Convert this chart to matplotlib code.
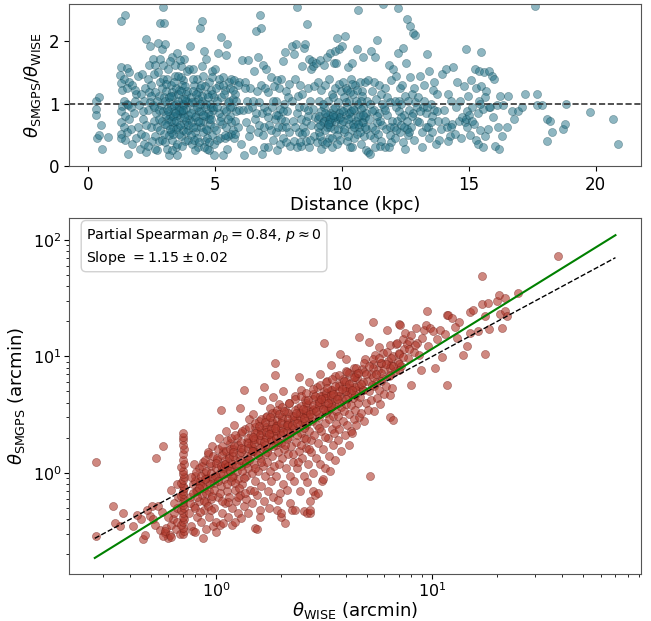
import matplotlib.pyplot as plt
import numpy as np

# top panel: (distance kpc, theta_SMGPS / theta_WISE)
ratio_points = [
    (0.30, 1.05), (0.30, 0.92), (0.30, 0.82), (0.45, 1.10), (0.50, 0.65), (0.35, 0.45), (0.45, 0.50), (0.55, 0.28), (0.80, 0.47),
    (1.30, 2.33), (1.45, 2.42), (1.28, 1.58), (1.52, 1.57), (1.62, 1.50), (1.25, 1.46), (1.42, 1.40), (1.30, 1.33), (1.60, 1.35),
    (1.35, 1.22), (1.55, 1.25), (1.75, 1.30), (1.42, 1.05), (1.52, 1.00), (1.35, 0.96), (1.58, 0.98), (1.70, 0.95), (1.28, 0.88),
    (1.46, 0.80), (1.62, 0.76), (1.30, 0.70), (1.42, 0.62), (1.52, 0.55), (1.30, 0.52), (1.45, 0.42), (1.58, 0.20), (1.28, 0.45),
    (1.80, 0.85), (1.85, 1.05), (1.90, 1.15), (1.95, 0.62), (1.88, 0.45), (1.75, 0.36), (1.95, 1.45), (1.85, 1.22), (1.70, 0.60),
    (2.05, 0.28), (2.10, 0.52), (2.15, 0.75), (2.20, 1.05), (2.25, 1.25), (2.30, 2.04), (2.35, 1.40), (2.40, 1.62), (2.45, 1.92),
    (2.50, 1.30), (2.55, 0.98), (2.60, 0.72), (2.65, 0.48), (2.70, 0.25), (2.75, 1.98), (2.80, 1.12), (2.85, 2.30), (2.90, 1.88),
    (2.95, 2.55), (2.95, 1.62), (3.00, 2.29), (2.20, 0.35), (2.30, 0.22), (2.35, 0.90), (2.42, 1.18), (2.48, 0.63), (2.52, 0.40),
    (2.58, 1.48), (2.62, 1.18), (2.68, 0.85), (2.72, 0.62), (2.78, 0.40), (2.82, 1.35), (2.88, 0.98), (2.92, 0.72), (2.98, 0.52),
    (2.12, 1.48), (2.18, 0.88), (2.28, 0.65), (2.38, 0.32), (2.45, 1.02), (2.55, 1.72), (2.62, 0.28), (2.70, 1.05), (2.78, 0.90),
    (2.85, 0.58), (2.90, 1.25), (2.95, 0.88), (2.00, 0.98), (2.08, 1.15), (2.65, 1.62), (2.75, 1.50), (2.85, 1.72), (2.90, 0.42),
    (2.98, 1.10), (2.25, 0.48), (2.50, 1.12), (2.60, 0.95), (2.80, 0.75), (2.95, 1.40),
    (3.02, 1.95), (3.05, 0.38), (3.08, 1.20), (3.10, 0.92), (3.12, 0.65), (3.15, 1.55), (3.18, 0.18), (3.20, 1.02), (3.22, 0.80),
    (3.25, 1.30), (3.28, 0.55), (3.30, 1.75), (3.32, 0.42), (3.35, 1.12), (3.38, 0.88), (3.40, 0.70), (3.42, 1.45), (3.45, 0.30),
    (3.48, 1.00), (3.50, 0.18), (3.52, 1.82), (3.55, 0.62), (3.58, 1.22), (3.60, 0.95), (3.62, 0.78), (3.65, 1.60), (3.68, 0.48),
    (3.70, 1.08), (3.72, 0.85), (3.75, 1.38), (3.78, 0.68), (3.80, 1.72), (3.82, 0.40), (3.85, 1.15), (3.88, 0.92), (3.90, 1.52),
    (3.92, 0.58), (3.95, 1.02), (3.98, 0.75), (3.05, 1.05), (3.10, 1.40), (3.15, 0.75), (3.20, 0.50), (3.25, 0.95), (3.30, 1.18),
    (3.35, 0.62), (3.40, 0.98), (3.45, 1.25), (3.50, 0.82), (3.55, 1.05), (3.60, 0.52), (3.65, 0.88), (3.70, 1.30), (3.75, 0.58),
    (3.80, 0.98), (3.85, 0.72), (3.90, 1.20), (3.95, 0.82), (3.08, 0.82), (3.18, 1.10), (3.28, 0.72), (3.38, 1.35), (3.48, 0.60),
    (3.58, 0.90), (3.68, 1.42), (3.78, 0.78), (3.88, 1.05), (3.98, 1.55), (3.12, 0.28), (3.32, 0.25), (3.52, 0.35), (3.72, 0.32),
    (3.92, 0.42), (3.42, 1.62), (3.62, 1.70), (3.22, 1.68), (3.82, 1.28), (3.55, 1.45), (3.35, 0.80), (3.75, 1.00),
    (3.02, 0.68), (3.14, 0.88), (3.26, 1.12), (3.36, 0.52), (3.44, 0.85), (3.54, 1.15), (3.64, 0.65), (3.74, 0.90), (3.84, 1.08),
    (3.94, 0.66), (3.06, 1.32), (3.46, 0.72), (3.66, 1.20), (3.86, 0.55), (3.24, 0.60),
    (4.02, 1.92), (4.05, 1.10), (4.08, 0.70), (4.10, 0.35), (4.12, 1.55), (4.15, 0.92), (4.18, 1.30), (4.20, 0.55), (4.22, 1.02),
    (4.25, 0.80), (4.28, 1.40), (4.30, 0.45), (4.32, 1.18), (4.35, 0.30), (4.38, 0.88), (4.40, 2.22), (4.42, 1.25), (4.45, 0.62),
    (4.48, 1.05), (4.50, 2.32), (4.52, 0.72), (4.55, 1.45), (4.58, 1.85), (4.60, 0.95), (4.62, 0.40), (4.65, 1.72), (4.68, 1.15),
    (4.70, 0.58), (4.72, 0.85), (4.75, 1.35), (4.78, 0.25), (4.80, 1.00), (4.82, 0.68), (4.85, 1.22), (4.88, 0.50), (4.90, 1.52),
    (4.92, 0.90), (4.95, 0.35), (4.98, 1.10), (4.05, 0.50), (4.15, 1.20), (4.25, 0.62), (4.35, 1.08), (4.45, 0.88), (4.55, 0.55),
    (4.65, 1.00), (4.75, 0.75), (4.85, 0.95), (4.95, 0.62), (4.10, 1.02), (4.20, 0.78), (4.30, 0.95), (4.40, 0.70), (4.50, 1.12),
    (4.60, 1.28), (4.70, 0.45), (4.80, 0.82), (4.90, 1.15), (4.18, 0.42), (4.38, 0.38), (4.58, 0.30), (4.78, 0.38), (4.98, 0.18),
    (4.12, 1.40), (4.48, 1.60), (4.88, 1.42), (4.22, 0.25), (4.68, 0.28), (4.42, 1.00), (4.62, 0.80),
    (4.04, 0.85), (4.14, 0.62), (4.24, 1.15), (4.34, 0.72), (4.44, 1.30), (4.54, 0.82), (4.64, 0.60), (4.74, 1.10), (4.84, 0.75),
    (4.94, 0.95),
    (5.02, 1.55), (5.05, 0.58), (5.08, 1.05), (5.10, 0.42), (5.12, 1.82), (5.15, 0.85), (5.18, 1.30), (5.20, 0.45), (5.22, 2.07),
    (5.25, 1.10), (5.28, 0.68), (5.30, 0.18), (5.32, 1.42), (5.35, 0.92), (5.38, 0.45), (5.40, 1.22), (5.42, 1.78), (5.45, 0.62),
    (5.48, 1.95), (5.50, 1.02), (5.52, 0.48), (5.55, 1.35), (5.58, 0.80), (5.60, 1.25), (5.62, 0.52), (5.65, 1.40), (5.68, 0.95),
    (5.70, 0.58), (5.72, 1.08), (5.75, 1.38), (5.78, 0.72), (5.80, 1.15), (5.85, 0.88), (5.90, 0.62), (5.95, 1.35), (5.05, 1.25),
    (5.15, 1.40), (5.25, 0.78), (5.35, 1.15), (5.45, 0.88), (5.55, 1.05), (5.65, 0.70), (5.75, 0.45), (5.85, 1.05), (5.95, 0.90),
    (5.10, 0.95), (5.20, 0.72), (5.30, 1.30), (5.40, 0.50), (5.50, 0.75), (5.60, 0.95), (5.70, 1.22), (5.80, 0.52), (5.90, 1.30),
    (5.48, 0.28),
    (6.02, 0.35), (6.08, 1.70), (6.12, 0.90), (6.15, 0.18), (6.18, 1.35), (6.22, 0.70), (6.25, 1.05), (6.30, 1.70), (6.35, 0.48),
    (6.40, 1.25), (6.45, 0.95), (6.50, 0.25), (6.52, 1.05), (6.55, 1.52), (6.58, 0.75), (6.62, 2.17), (6.65, 1.20), (6.68, 0.55),
    (6.70, 1.75), (6.72, 1.02), (6.75, 0.65), (6.78, 2.43), (6.80, 2.22), (6.82, 1.30), (6.85, 0.85), (6.88, 0.50), (6.90, 1.62),
    (6.92, 0.95), (6.95, 0.30), (6.98, 1.25), (6.40, 0.60), (6.60, 0.85), (6.20, 1.25), (6.85, 0.20), (6.30, 0.92), (6.95, 0.62),
    (7.02, 1.55), (7.05, 0.88), (7.08, 0.30), (7.10, 1.18), (7.15, 0.65), (7.20, 1.42), (7.25, 0.95), (7.30, 0.42), (7.32, 1.28),
    (7.35, 0.75), (7.40, 1.05), (7.42, 0.55), (7.45, 0.25), (7.50, 0.82), (7.52, 1.25), (7.55, 0.35), (7.58, 0.92), (7.62, 1.40),
    (7.65, 0.62), (7.68, 1.68), (7.70, 0.45), (7.72, 1.00), (7.75, 1.83), (7.78, 0.72), (7.80, 1.20), (7.82, 0.38), (7.85, 0.88),
    (7.88, 1.10), (7.90, 0.55), (7.95, 0.32), (7.10, 0.78), (7.30, 1.05), (7.50, 0.62), (7.70, 0.88), (7.90, 1.32), (7.20, 0.58),
    (7.40, 0.82), (7.60, 0.75), (7.80, 0.62), (7.45, 1.38),
    (8.02, 1.05), (8.05, 1.92), (8.08, 0.72), (8.10, 1.80), (8.12, 0.40), (8.15, 1.40), (8.20, 1.95), (8.22, 0.85), (8.25, 2.55),
    (8.28, 1.12), (8.30, 0.55), (8.32, 0.95), (8.35, 1.30), (8.38, 0.32), (8.40, 0.75), (8.42, 1.60), (8.45, 0.52), (8.48, 0.62),
    (8.50, 1.90), (8.52, 0.95), (8.55, 1.95), (8.58, 0.40), (8.60, 0.72), (8.62, 2.28), (8.65, 1.25), (8.68, 0.80), (8.70, 1.72),
    (8.72, 0.30), (8.75, 1.05), (8.78, 1.55), (8.80, 0.65), (8.82, 1.68), (8.85, 0.92), (8.88, 1.60), (8.90, 0.48), (8.92, 1.28),
    (8.95, 0.78), (8.98, 1.65), (8.15, 0.62), (8.35, 0.38), (8.55, 0.55), (8.75, 0.42), (8.25, 0.30), (8.45, 1.15), (8.65, 0.90),
    (9.02, 0.38), (9.05, 1.35), (9.08, 0.75), (9.10, 1.05), (9.12, 0.55), (9.15, 1.70), (9.18, 0.88), (9.20, 1.22), (9.22, 0.40),
    (9.25, 0.70), (9.28, 1.62), (9.30, 0.95), (9.32, 0.35), (9.35, 1.30), (9.38, 0.78), (9.40, 1.75), (9.42, 0.62), (9.45, 1.05),
    (9.48, 0.45), (9.50, 1.40), (9.52, 0.85), (9.55, 1.82), (9.58, 0.70), (9.60, 1.15), (9.62, 0.30), (9.65, 0.92), (9.68, 1.65),
    (9.70, 0.60), (9.72, 1.85), (9.75, 1.25), (9.78, 0.80), (9.80, 2.05), (9.82, 0.50), (9.85, 1.02), (9.88, 0.75), (9.90, 1.32),
    (9.92, 0.42), (9.95, 0.90), (9.98, 1.20), (9.05, 0.62), (9.15, 0.48), (9.25, 1.00), (9.35, 0.58), (9.45, 0.82), (9.55, 0.62),
    (9.65, 1.10), (9.75, 0.72), (9.85, 0.60), (9.95, 0.68), (9.10, 0.80), (9.30, 0.72), (9.50, 0.70), (9.70, 0.78), (9.90, 0.85),
    (9.40, 0.38), (9.60, 0.45), (9.80, 0.35), (9.20, 0.28), (9.88, 1.88), (9.78, 1.65),
    (9.14, 0.66), (9.34, 0.85), (9.54, 0.76), (9.74, 0.95), (9.94, 0.78), (9.44, 0.68), (9.64, 0.82),
    (10.02, 1.92), (10.05, 1.35), (10.08, 0.55), (10.10, 1.10), (10.12, 2.08), (10.15, 0.82), (10.18, 1.25), (10.20, 0.40),
    (10.22, 0.95), (10.25, 1.58), (10.28, 0.68), (10.30, 1.05), (10.32, 0.30), (10.35, 1.40), (10.38, 0.78), (10.40, 1.65),
    (10.42, 0.58), (10.45, 1.15), (10.48, 0.45), (10.50, 0.90), (10.52, 1.30), (10.55, 0.72), (10.58, 1.88), (10.60, 0.52),
    (10.62, 2.50), (10.65, 1.00), (10.68, 0.62), (10.70, 1.35), (10.72, 0.82), (10.75, 0.35), (10.78, 1.20), (10.80, 0.70),
    (10.82, 1.75), (10.85, 0.95), (10.88, 0.48), (10.90, 1.35), (10.92, 0.78), (10.95, 0.60), (10.98, 1.05), (10.05, 0.72),
    (10.15, 1.02), (10.25, 0.48), (10.35, 0.88), (10.45, 0.68), (10.55, 1.05), (10.65, 0.78), (10.75, 0.92), (10.85, 0.70),
    (10.95, 0.85), (10.10, 0.60), (10.30, 0.85), (10.50, 0.62), (10.70, 0.55), (10.90, 0.62), (10.20, 1.22), (10.40, 1.32),
    (10.60, 1.22), (10.80, 1.12), (10.40, 0.30), (10.95, 0.25),
    (10.04, 0.88), (10.24, 0.75), (10.44, 0.92), (10.64, 0.68), (10.84, 0.82), (10.34, 1.18), (10.74, 1.05),
    (11.02, 0.22), (11.05, 1.38), (11.08, 0.75), (11.10, 1.00), (11.12, 0.20), (11.15, 1.85), (11.18, 0.62), (11.20, 1.20),
    (11.25, 0.45), (11.28, 0.90), (11.30, 1.75), (11.32, 0.30), (11.35, 1.08), (11.38, 0.70), (11.40, 2.02), (11.42, 0.52),
    (11.45, 1.30), (11.48, 0.85), (11.50, 0.32), (11.55, 1.15), (11.60, 0.65), (11.62, 2.60), (11.65, 0.95), (11.70, 0.30),
    (11.72, 1.25), (11.75, 0.60), (11.80, 0.82), (11.85, 1.62), (11.88, 0.50), (11.90, 1.02), (11.92, 0.38), (11.95, 1.38),
    (11.98, 0.72), (11.10, 0.50), (11.30, 0.58), (11.50, 0.72), (11.70, 0.90), (11.90, 0.62), (11.20, 0.88), (11.40, 0.80),
    (11.60, 1.00), (11.80, 1.10), (11.25, 1.35), (11.55, 0.40), (11.85, 0.30),
    (12.02, 1.55), (12.05, 0.62), (12.08, 1.05), (12.10, 0.45), (12.12, 0.95), (12.15, 1.45), (12.18, 0.72), (12.20, 2.53),
    (12.22, 1.82), (12.25, 0.88), (12.28, 1.25), (12.30, 0.55), (12.32, 1.00), (12.35, 0.65), (12.38, 1.30), (12.40, 0.38),
    (12.42, 1.90), (12.45, 0.82), (12.48, 1.12), (12.50, 0.28), (12.52, 1.65), (12.55, 2.35), (12.58, 0.72), (12.60, 1.05),
    (12.62, 0.50), (12.65, 0.90), (12.68, 1.42), (12.70, 2.25), (12.72, 0.62), (12.75, 1.15), (12.80, 2.14), (12.82, 0.85),
    (12.85, 0.42), (12.88, 2.10), (12.90, 1.02), (12.95, 0.72), (12.15, 0.58), (12.35, 0.78), (12.55, 0.60), (12.75, 0.80),
    (12.95, 0.95), (12.25, 1.05), (12.45, 0.62), (12.65, 0.55), (12.85, 1.25),
    (13.02, 1.10), (13.05, 0.70), (13.10, 1.45), (13.15, 0.55), (13.20, 0.95), (13.25, 1.30), (13.30, 0.85), (13.35, 1.80),
    (13.40, 0.62), (13.42, 1.52), (13.45, 0.45), (13.50, 1.00), (13.55, 0.80), (13.60, 1.22), (13.65, 0.90), (13.70, 0.35),
    (13.75, 1.15), (13.80, 0.72), (13.85, 0.42), (13.90, 0.60), (13.95, 1.48), (13.15, 0.30), (13.35, 0.95), (13.55, 0.55),
    (13.75, 0.88), (13.10, 0.88), (13.30, 0.62), (13.50, 0.70), (13.25, 1.05), (13.65, 1.35),
    (14.02, 0.90), (14.10, 1.55), (14.15, 0.62), (14.20, 1.15), (14.25, 0.48), (14.30, 1.05), (14.35, 0.68), (14.40, 1.58),
    (14.45, 0.52), (14.50, 0.95), (14.55, 1.35), (14.60, 0.72), (14.65, 1.05), (14.70, 0.45), (14.80, 1.28), (14.85, 0.70),
    (14.90, 1.87), (14.92, 0.88), (14.95, 0.62), (14.98, 1.12), (14.20, 0.40), (14.75, 0.78), (14.88, 0.75), (14.30, 0.62),
    (14.05, 0.72),
    (15.02, 0.82), (15.05, 0.50), (15.10, 1.38), (15.15, 0.95), (15.20, 0.68), (15.25, 1.55), (15.28, 0.42), (15.30, 1.25),
    (15.35, 0.85), (15.40, 1.52), (15.42, 1.05), (15.45, 0.58), (15.48, 1.83), (15.50, 1.28), (15.55, 0.92), (15.60, 1.50),
    (15.65, 0.48), (15.70, 1.20), (15.75, 0.60), (15.80, 1.52), (15.85, 0.95), (15.90, 1.45), (15.95, 0.78), (15.35, 0.35),
    (15.55, 0.30), (15.65, 1.10), (15.80, 0.95), (15.15, 0.72), (15.45, 1.00), (15.98, 1.40),
    (16.05, 0.32), (16.10, 0.98), (16.15, 0.62), (16.20, 0.28), (16.25, 1.12), (16.35, 0.98), (16.50, 0.62), (16.55, 1.12),
    (16.70, 0.88), (16.80, 0.75), (16.95, 0.88), (16.30, 0.48),
    (17.10, 0.95), (17.20, 1.15), (17.60, 2.57), (17.70, 1.15), (17.70, 0.98), (17.90, 0.98), (18.10, 0.75), (18.10, 0.40),
    (18.20, 0.72), (18.30, 0.55), (18.70, 0.60), (18.80, 0.68), (18.85, 1.00), (19.80, 0.87), (20.70, 0.76), (20.90, 0.35),
]

# bottom panel: (theta_WISE, theta_SMGPS) in arcmin, the spread-out points
size_points = [
    (0.28, 1.25), (0.28, 0.29), (0.335, 0.525), (0.34, 0.37), (0.36, 0.35), (0.373, 0.454), (0.414, 0.349), (0.46, 0.272),
    (0.47, 0.296), (0.495, 0.425), (0.504, 0.518), (0.513, 0.40), (0.54, 0.525), (0.53, 1.34), (0.57, 1.69), (0.55, 0.327),
    (0.58, 0.306), (0.59, 0.338), (0.60, 0.277), (0.57, 0.287), (0.58, 0.316), (0.61, 0.296), (0.62, 0.36), (0.63, 0.40),
    (0.62, 0.28), (0.64, 0.45), (0.60, 0.42), (0.66, 0.50), (0.65, 0.33), (0.67, 0.62), (0.64, 0.55), (0.66, 0.38),
    (0.68, 0.30), (0.56, 0.46), (0.52, 0.36), (0.45, 0.40), (0.43, 0.44), (0.48, 0.48), (0.62, 0.72), (0.66, 0.80),
    (0.70, 0.30), (0.71, 0.32), (0.70, 0.34), (0.69, 0.36), (0.70, 0.38), (0.71, 0.40), (0.70, 0.42), (0.70, 0.45),
    (0.69, 0.48), (0.71, 0.50), (0.70, 0.53), (0.70, 0.56), (0.71, 0.60), (0.69, 0.63), (0.70, 0.66), (0.70, 0.70),
    (0.71, 0.74), (0.70, 0.78), (0.69, 0.82), (0.70, 0.87), (0.71, 0.92), (0.70, 0.98), (0.70, 1.05), (0.69, 1.12),
    (0.71, 1.20), (0.70, 1.30), (0.70, 1.45), (0.71, 1.60), (0.70, 1.75), (0.70, 1.90), (0.70, 2.05), (0.70, 2.20),
    (0.75, 0.45), (0.76, 0.62), (0.77, 0.35), (0.78, 0.80), (0.785, 0.316), (0.79, 0.52), (0.80, 0.31), (0.80, 0.95),
    (0.81, 0.70), (0.82, 0.42), (0.83, 1.10), (0.83, 0.58), (0.84, 0.85), (0.85, 0.38), (0.86, 0.65), (0.87, 0.277),
    (0.87, 1.25), (0.88, 0.48), (0.88, 0.75), (0.89, 1.00), (0.90, 0.33), (0.90, 0.56), (0.91, 0.90), (0.92, 1.45),
    (0.93, 0.42), (0.93, 0.70), (0.95, 1.15), (0.95, 0.60), (0.96, 1.70), (0.97, 0.35), (0.98, 0.82), (0.98, 0.50),
    (1.00, 0.38), (1.00, 0.95), (1.00, 0.31), (1.01, 1.30), (1.02, 0.62), (1.03, 2.00), (1.04, 0.36), (1.05, 3.48),
    (1.05, 0.78), (1.06, 1.10), (1.07, 0.45), (1.08, 1.55), (1.08, 0.37), (1.09, 0.88), (1.10, 0.55), (1.10, 1.20),
    (1.11, 2.30), (1.12, 0.70), (1.13, 1.00), (1.14, 0.42), (1.15, 1.40), (1.15, 0.62), (1.16, 1.80), (1.17, 0.85),
    (1.18, 0.36), (1.18, 1.12), (1.19, 0.50), (1.20, 1.60), (1.20, 0.95), (1.21, 2.60), (1.22, 0.38), (1.22, 0.72),
    (1.23, 1.30), (1.24, 0.58), (1.25, 1.05), (1.25, 2.00), (1.26, 0.45), (1.27, 0.88), (1.28, 1.45), (1.29, 3.60),
    (1.29, 0.65), (1.30, 1.15), (1.31, 0.41), (1.30, 2.20), (1.27, 1.75),
    (1.32, 0.80), (1.33, 1.60), (1.34, 0.52), (1.35, 5.20), (1.35, 1.25), (1.36, 2.40), (1.37, 0.95), (1.38, 0.60),
    (1.39, 1.85), (1.40, 1.10), (1.41, 0.45), (1.42, 2.90), (1.43, 1.40), (1.44, 0.72), (1.45, 2.10), (1.46, 1.00),
    (1.47, 0.55), (1.48, 1.65), (1.49, 3.20), (1.50, 1.20), (1.51, 0.85), (1.52, 0.338), (1.52, 2.50), (1.53, 1.50),
    (1.54, 0.33), (1.55, 0.65), (1.56, 1.90), (1.57, 1.05), (1.58, 2.80), (1.59, 0.48), (1.60, 1.35), (1.61, 2.20),
    (1.62, 0.78), (1.63, 1.70), (1.64, 4.20), (1.65, 1.15), (1.66, 5.50), (1.66, 0.58), (1.67, 2.60), (1.68, 1.45),
    (1.69, 0.95), (1.45, 1.75), (1.55, 2.30), (1.60, 0.42), (1.50, 0.70),
    (1.70, 2.00), (1.71, 3.00), (1.72, 1.25), (1.73, 0.70), (1.74, 1.65), (1.75, 2.40), (1.76, 0.50), (1.77, 3.60),
    (1.78, 1.05), (1.79, 1.90), (1.80, 0.85), (1.81, 2.80), (1.82, 1.40), (1.83, 4.50), (1.84, 0.62), (1.85, 2.10),
    (1.86, 1.15), (1.87, 3.30), (1.88, 8.80), (1.88, 6.90), (1.89, 1.75), (1.90, 0.95), (1.91, 0.485), (1.92, 2.60),
    (1.93, 1.50), (1.94, 0.59), (1.95, 3.90), (1.96, 1.20), (1.97, 2.20), (1.98, 0.67), (1.99, 1.80), (2.00, 0.42),
    (2.00, 0.45), (2.01, 2.90), (2.02, 1.35), (2.04, 5.00), (2.05, 0.80), (2.06, 1.60), (2.08, 2.50), (2.09, 0.37),
    (2.10, 1.10), (2.11, 3.40), (2.12, 1.95), (2.14, 0.72), (2.15, 2.70), (2.16, 1.45), (2.18, 4.00), (2.19, 0.95),
    (2.20, 2.20), (2.20, 0.55),
    (2.22, 1.70), (2.24, 0.485), (2.24, 3.10), (2.26, 1.25), (2.28, 2.40), (2.30, 0.85), (2.32, 0.48), (2.32, 4.60),
    (2.34, 1.85), (2.36, 2.90), (2.38, 1.10), (2.40, 3.60), (2.42, 6.60), (2.42, 1.55), (2.44, 0.70), (2.46, 2.20),
    (2.48, 5.20), (2.50, 1.35), (2.52, 3.20), (2.54, 0.47), (2.54, 2.00), (2.56, 0.95), (2.58, 4.20), (2.60, 1.65),
    (2.62, 2.60), (2.63, 0.45), (2.63, 0.83), (2.64, 3.80), (2.66, 1.20), (2.68, 6.00), (2.70, 2.30), (2.72, 0.57),
    (2.72, 0.45), (2.72, 0.485), (2.74, 1.50), (2.76, 3.40), (2.78, 2.80), (2.80, 1.00), (2.82, 0.70), (2.82, 4.80),
    (2.28, 1.45), (2.36, 2.10), (2.46, 1.75), (2.56, 2.45), (2.66, 3.00), (2.76, 1.90), (2.50, 2.75), (2.40, 1.25),
    (2.60, 1.95), (2.70, 1.60),
    (2.85, 2.10), (2.87, 0.65), (2.88, 3.60), (2.90, 1.35), (2.92, 5.50), (2.94, 2.60), (2.96, 1.80), (2.97, 0.68),
    (2.98, 4.20), (3.00, 3.00), (3.03, 7.10), (3.03, 1.20), (3.06, 2.30), (3.09, 0.86), (3.09, 3.80), (3.12, 1.60),
    (3.14, 0.88), (3.15, 5.00), (3.17, 13.0), (3.18, 2.70), (3.20, 1.10), (3.22, 3.30), (3.25, 6.20), (3.28, 2.00),
    (3.30, 4.50), (3.32, 1.40), (3.34, 2.90), (3.37, 1.03), (3.38, 3.60), (3.40, 8.40), (3.42, 2.40), (3.44, 5.20),
    (3.46, 1.75), (3.48, 3.10), (3.50, 4.00), (3.52, 2.20), (3.54, 6.80), (3.56, 1.30), (3.58, 3.40), (3.60, 2.65),
    (3.00, 2.45), (3.20, 2.05), (3.40, 3.90), (3.10, 4.60), (3.30, 3.50),
    (3.62, 4.60), (3.65, 1.90), (3.68, 3.10), (3.70, 5.80), (3.72, 2.40), (3.75, 10.5), (3.78, 3.70), (3.80, 1.55),
    (3.83, 4.30), (3.86, 2.80), (3.88, 6.40), (3.90, 3.40), (3.93, 2.10), (3.96, 5.00), (4.00, 9.50), (4.00, 3.90),
    (4.04, 2.60), (4.07, 4.60), (4.10, 7.20), (4.12, 3.20), (4.14, 1.75), (4.16, 5.40), (4.20, 2.30), (4.23, 3.80),
    (4.27, 2.20), (4.27, 6.00), (4.30, 4.40), (4.33, 2.90), (4.36, 8.00), (4.40, 3.50), (4.43, 5.20), (4.46, 2.60),
    (4.50, 6.50), (4.53, 4.00), (4.56, 3.00), (4.60, 14.8), (4.60, 5.60), (4.00, 7.50), (4.20, 4.90), (4.45, 7.00),
    (4.65, 4.50), (4.70, 3.30), (4.75, 7.80), (4.80, 5.20), (4.85, 2.80), (4.90, 9.50), (4.95, 4.00), (5.00, 6.20),
    (5.05, 3.50), (5.10, 13.2), (5.10, 5.00), (5.16, 0.935), (5.18, 7.00), (5.22, 4.20), (5.30, 19.7), (5.30, 8.60),
    (5.35, 5.60), (5.40, 3.40), (5.45, 10.2), (5.50, 6.00), (5.55, 4.40), (5.60, 7.60), (5.65, 12.0), (5.70, 5.20),
    (5.75, 3.90), (5.80, 8.80), (5.85, 6.50), (5.90, 10.8), (5.95, 4.80), (6.00, 7.80), (6.10, 5.60), (6.20, 16.9),
    (6.20, 11.0), (6.25, 9.20), (6.30, 6.80), (6.40, 3.05), (6.40, 4.70), (6.50, 5.35), (6.45, 8.40), (6.35, 12.5),
    (6.60, 2.86), (6.60, 10.0), (6.70, 7.50), (6.80, 12.8), (6.90, 13.1), (6.95, 9.00), (7.00, 18.9), (7.05, 10.8),
    (7.10, 18.7), (7.20, 8.20), (7.30, 14.0), (7.40, 11.5), (7.50, 16.0), (7.60, 12.9), (7.70, 9.60), (7.80, 13.5),
    (8.00, 5.70), (8.00, 15.2), (8.20, 11.0), (8.40, 17.5), (8.50, 13.0), (8.70, 10.2), (8.90, 7.70), (9.00, 14.5),
    (9.20, 16.8), (9.45, 24.7), (9.40, 18.7), (9.60, 12.4), (9.80, 17.5), (10.1, 16.6), (10.3, 8.00), (10.5, 14.0),
    (10.9, 16.9), (11.1, 9.80), (11.5, 15.5),
    (11.7, 22.7), (11.7, 5.70), (11.8, 22.7), (12.3, 21.3), (13.3, 19.9), (13.9, 10.3), (14.4, 12.2), (14.9, 15.8),
    (15.0, 24.0), (15.4, 25.0), (16.9, 49.0), (16.2, 16.5), (17.0, 28.0), (17.6, 22.4), (17.6, 10.4), (18.0, 28.7),
    (18.2, 17.3), (20.0, 29.6), (20.3, 33.7), (20.6, 23.0), (21.0, 17.5), (21.6, 31.6), (21.6, 24.6), (22.2, 22.0),
    (24.8, 35.3), (38.0, 72.0), (12.8, 18.0), (13.0, 14.5),
]

# bottom panel: the crowded ridge of the cloud
ridge_points = [
    (0.80, 0.85), (0.81, 1.02), (0.79, 1.20), (0.82, 0.70), (0.85, 0.95), (0.86, 1.15), (0.84, 0.80), (0.90, 1.05),
    (0.89, 1.30), (0.91, 0.85), (0.92, 1.50), (0.95, 1.00), (0.94, 1.22), (0.96, 0.90), (0.97, 1.40), (1.00, 1.10),
    (1.01, 1.35), (0.99, 0.95), (1.02, 1.60), (1.00, 1.22), (1.05, 1.15), (1.06, 1.42), (1.04, 1.00), (1.07, 1.70),
    (1.10, 1.30), (1.11, 1.55), (1.09, 1.10), (1.12, 1.90), (1.10, 1.20), (1.15, 1.35), (1.16, 1.62), (1.14, 1.15),
    (1.17, 2.00), (1.20, 1.40), (1.21, 1.72), (1.19, 1.20), (1.22, 2.10), (1.20, 1.50), (1.30, 1.50), (1.31, 1.85),
    (1.29, 1.30), (1.32, 2.30), (1.30, 1.65), (1.40, 1.65), (1.41, 2.00), (1.39, 1.40), (1.42, 2.50), (1.40, 1.80),
    (1.50, 1.80), (1.51, 2.20), (1.49, 1.55), (1.52, 2.70), (1.50, 1.95), (1.60, 1.90), (1.61, 2.35), (1.59, 1.65),
    (1.62, 2.90), (1.60, 2.10), (1.70, 2.05), (1.71, 2.50), (1.69, 1.75), (1.72, 3.10), (1.70, 2.25), (1.80, 2.20),
    (1.81, 2.70), (1.79, 1.90), (1.82, 3.30), (1.80, 2.40), (1.90, 2.30), (1.91, 2.85), (1.89, 2.00), (1.92, 3.50),
    (1.90, 2.55), (2.00, 2.45), (2.01, 3.00), (1.99, 2.10), (2.02, 3.70), (2.00, 2.70), (2.15, 2.65), (2.16, 3.25),
    (2.14, 2.30), (2.17, 4.00), (2.15, 2.90), (2.30, 2.85), (2.31, 3.50), (2.29, 2.45), (2.32, 4.30), (2.30, 3.10),
    (2.45, 3.05), (2.46, 3.75), (2.44, 2.60), (2.47, 4.60), (2.45, 3.30), (2.60, 3.25), (2.61, 4.00), (2.59, 2.80),
    (2.62, 4.90), (2.60, 3.50), (2.80, 3.50), (2.81, 4.30), (2.79, 3.00), (2.82, 5.30), (2.80, 3.80), (3.00, 3.80),
    (3.01, 4.60), (2.99, 3.20), (3.02, 5.70), (3.00, 4.10), (3.20, 4.00), (3.21, 4.90), (3.19, 3.45), (3.22, 6.00),
    (3.20, 4.40), (3.40, 4.30), (3.41, 5.20), (3.39, 3.70), (3.42, 6.40), (3.40, 4.70), (3.70, 4.60), (3.71, 5.60),
    (3.69, 4.00), (3.72, 6.90), (3.70, 5.00), (4.00, 5.00), (4.01, 6.10), (3.99, 4.30), (4.02, 7.40), (4.00, 5.50),
    (4.40, 5.50), (4.41, 6.70), (4.39, 4.70), (4.42, 8.00), (4.80, 6.00), (4.81, 7.30), (4.79, 5.20), (4.82, 8.70),
    (5.30, 6.60), (5.31, 8.00), (5.29, 5.70), (5.32, 9.50), (5.80, 7.20), (5.81, 8.80), (5.79, 6.20), (6.40, 7.90),
    (6.41, 9.60), (6.39, 6.90), (7.00, 8.60), (7.01, 10.5), (6.99, 7.60),
]

# bottom panel: points filling the gaps inside the cloud
fill_points = [
    (0.76, 0.55), (0.78, 0.68), (0.80, 0.50), (0.82, 0.62), (0.84, 0.46), (0.86, 0.78), (0.88, 0.58), (0.90, 0.68),
    (0.92, 0.52), (0.94, 0.80), (0.96, 0.64), (0.98, 0.72), (0.77, 0.92), (0.83, 0.75), (0.89, 0.88), (0.95, 0.48),
    (1.02, 0.85), (1.04, 0.68), (1.08, 0.98), (1.12, 0.80), (1.14, 0.56), (1.18, 0.92), (1.22, 0.82), (1.24, 1.18),
    (1.28, 0.75), (1.32, 1.05), (1.36, 0.68), (1.38, 1.22), (1.06, 0.58), (1.16, 1.05), (1.26, 0.62), (1.34, 0.90),
    (1.42, 1.30), (1.46, 1.55), (1.52, 1.10), (1.56, 1.42), (1.62, 1.25), (1.66, 1.85), (1.72, 1.50), (1.76, 2.15),
    (1.84, 1.70), (1.88, 2.45), (1.94, 1.85), (2.04, 2.25), (2.08, 1.75), (2.12, 2.60), (2.18, 2.05), (1.48, 2.05),
    (1.58, 2.55), (1.68, 2.75), (1.78, 3.00), (1.96, 3.20), (2.06, 3.40),
    (2.24, 2.60), (2.34, 3.30), (2.38, 2.70), (2.52, 3.55), (2.56, 2.95), (2.66, 4.20), (2.72, 3.20), (2.86, 4.60),
    (2.90, 3.40), (3.06, 4.30), (3.12, 3.55), (3.26, 5.40), (3.30, 4.00), (3.46, 4.80), (3.56, 5.60), (3.64, 4.30),
    (3.82, 5.30), (3.92, 6.20), (4.10, 5.80), (4.25, 5.10), (4.34, 6.60), (4.52, 7.20), (4.70, 5.80), (4.95, 7.00),
    (5.10, 8.20), (5.50, 7.00), (5.70, 9.60), (6.10, 8.60), (6.60, 8.20), (7.30, 9.80), (7.80, 11.5), (8.30, 12.5),
]

fit_slope = 1.15
fit_norm = 0.824
line_x = [0.275, 70.3]


def main():
    dist, ratio = zip(*ratio_points)
    wise, smgps = zip(*(size_points + ridge_points + fill_points))

    fig = plt.figure(figsize=(6.51, 6.21), dpi=100)
    ax1 = fig.add_axes([0.106, 0.7327, 0.879, 0.261])
    ax2 = fig.add_axes([0.106, 0.0757, 0.879, 0.5733])

    ax1.scatter(dist, ratio, s=34, color='#1f6f84', alpha=0.5, edgecolors='#0d3f4c', linewidths=0.4)
    ax1.axhline(1, color='#333333', linestyle='--', linewidth=1.2)
    ax1.set_xlim(-0.75, 21.8)
    ax1.set_ylim(0, 2.6)
    ax1.set_yticks([0, 1, 2])
    ax1.set_xlabel('Distance (kpc)', fontsize=13, labelpad=2)
    ax1.set_ylabel(r'$\theta_{\rm SMGPS}/\theta_{\rm WISE}$', fontsize=13)
    ax1.tick_params(labelsize=12)

    ax2.scatter(wise, smgps, s=34, color='#b0392c', alpha=0.6, edgecolors='#6e1a12', linewidths=0.4)
    lx = np.array(line_x)
    ax2.plot(lx, lx, 'k--', linewidth=1)
    ax2.plot(lx, fit_norm * lx ** fit_slope, color='green', linewidth=1.5)
    ax2.set_xscale('log')
    ax2.set_yscale('log')
    ax2.set_xlim(0.209, 92.5)
    ax2.set_ylim(0.136, 154)
    ax2.set_xlabel(r'$\theta_{\rm WISE}$ (arcmin)', fontsize=13, labelpad=0)
    ax2.set_ylabel(r'$\theta_{\rm SMGPS}$ (arcmin)', fontsize=13)
    ax2.tick_params(labelsize=11.5, pad=2)
    ax2.text(0.03, 0.975,
             'Partial Spearman $\\rho_{\\rm p} = 0.84$, $p \\approx 0$\nSlope $= 1.15 \\pm 0.02$',
             transform=ax2.transAxes, fontsize=10.2, va='top', ha='left',
             bbox=dict(boxstyle='round,pad=0.35', facecolor='white', edgecolor='#cccccc', alpha=0.9))

    for ax in (ax1, ax2):
        for sp in ax.spines.values():
            sp.set_color('#555555')

    plt.savefig('out.png', dpi=100)


if __name__ == "__main__":
    main()
